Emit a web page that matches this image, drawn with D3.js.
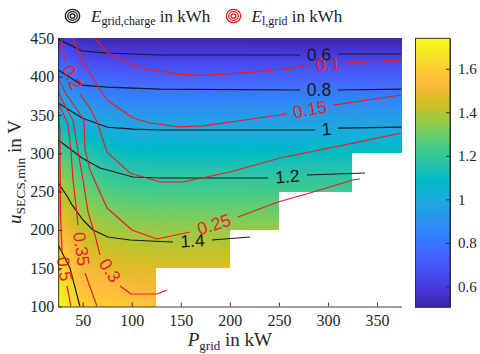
<!DOCTYPE html>
<html><head><meta charset="utf-8">
<script src="https://cdn.jsdelivr.net/npm/d3@7"></script>
<style>body{margin:0;background:#fff}svg{display:block}</style>
</head><body>
<svg id="chart" width="480" height="354"></svg>
<script>
// ---------- data ----------
const pGrid = [25,50,75,100,125,150,175,200,225,250,275,300,325,350,375];   // kW
const uGrid = [100,150,200,250,300,350,400,450];                            // V
// E_grid,charge in kWh, rows follow uGrid, columns follow pGrid (null = no data)
const eCharge = [
 [1.74,1.60,1.59,1.575,1.568,null,null,null,null,null,null,null,null,null,null],
 [1.65,1.511,1.488,1.47,1.468,1.466,1.466,1.466,null,null,null,null,null,null,null],
 [1.55,1.421,1.381,1.367,1.362,1.361,1.361,1.361,1.357,1.357,null,null,null,null,null],
 [1.425,1.306,1.262,1.243,1.241,1.241,1.241,1.241,1.238,1.238,1.232,1.232,1.232,null,null],
 [1.26,1.173,1.117,1.10,1.095,1.095,1.095,1.095,1.097,1.097,1.10,1.10,1.10,1.108,1.108],
 [1.0625,0.977,0.938,0.928,0.925,0.925,0.925,0.925,0.926,0.926,0.927,0.927,0.927,0.93,0.93],
 [0.837,0.75,0.736,0.729,0.724,0.724,0.724,0.724,0.725,0.725,0.726,0.726,0.726,0.727,0.727],
 [0.595,0.53,0.515,0.51,0.508,0.507,0.507,0.507,0.506,0.506,0.505,0.505,0.505,0.504,0.504]
];
const xTicks = [50,100,150,200,250,300,350];
const yTicks = [100,150,200,250,300,350,400,450];
const cTicks = [0.6,0.8,1,1.2,1.4,1.6];

// contour lines of E_grid,charge: [P, u] points, split where a label sits
const chargeLevels = [0.6,0.8,1,1.2,1.4,1.6];
const chargeLines = [
 [[[25,449],[49.3,433.4],[74.8,430.8],[128.8,428.2],[271.5,428.2]],[[310.2,429.5],[375,429.5]]],
 [[[25,408.6],[49.3,389],[74.8,386.4],[128.8,383.8],[271.5,382.5]],[[310.2,382.5],[375,383.8]]],
 [[[25,365.6],[49.3,346],[74.8,334.2],[101.3,331.6],[128.8,330.3],[286.8,330.3]],[[310.2,332.9],[375,334.2]]],
 [[[25,317.3],[49.3,293.8],[67.6,280.7],[101.3,269],[128.8,267.7],[238.9,267.7]],[[278.6,271.6],[337.8,274.2]]],
 [[[25,261.2],[34,244.2],[39.1,232.5],[50.3,212.9],[60.5,199.8],[75.8,190.7],[98.2,186.8],[128.8,184.8],[142,184.2]],[[181.8,186.8],[220.6,190.7]]],
 [[[25,180.3],[37,150.2],[47.2,100]]]
];
// contour lines of E_l,grid
const lossLevels = [0.1,0.15,0.2,0.25,0.3,0.35,0.5];
const lossLines = [
 [[[62.5,450],[74.8,431.7],[101.3,414.8],[118.6,409.5],[149.2,403],[172.6,401.7],[220.5,405.6],[251.1,409.5],[282.7,415.1]],[[317.4,417.7],[375,421.6]]],
 [[[40.1,450],[49.3,421.7],[62.5,393],[74.8,369.5],[101.3,346],[118.6,339.5],[149.2,334.3],[172.6,335.6],[251.1,349.9],[258.3,351.6]],[[305.1,362.9],[375,376]]],
 [[[27.9,450],[31.9,421.3]],[[47.2,377],[57.4,359],[64.6,340.7],[74.8,301.5],[98.2,274.2],[118.6,266.4],[128.8,262.5],[152.2,262.5],[200.2,275.5],[251.1,293.8],[312.3,309.5],[375,326.4]]],
 [[[25,398],[33,377],[43.1,359],[51.3,343.4],[52.3,304.3],[57.4,278.2],[74.8,228.5],[100.2,199.8],[125.7,188.1],[159.4,197.2]],[[208.3,216.8],[249,236.4],[281.6,248.1],[325.4,265.1],[332.5,266.4]]],
 [[[25,380],[33,359],[40,343.4],[45,304.3],[50.3,265.1],[55.4,223.3],[62.5,193.3],[67.6,167.2]],[[88,126.8],[99.2,116.3],[125.7,116.3],[135.9,121.5]]],
 [[[25,365.6],[30.9,349.9],[35,336.9],[38,304.3],[40.1,265.1],[43.1,232.5],[45.2,206.4]],[[52.3,143.7],[64.6,100]]],
 [[[25,353.8],[26.8,330.3],[27.3,223.3],[28.9,171.1]],[[34,126.8],[38,100]]]
];

// parula colormap (style)
const parulaMap = [[0.2422,0.1504,0.6603],[0.2504,0.1650,0.7076],[0.2578,0.1818,0.7511],[0.2647,0.1978,0.7952],[0.2706,0.2147,0.8364],[0.2751,0.2342,0.8710],[0.2783,0.2559,0.8991],[0.2803,0.2782,0.9221],[0.2813,0.3006,0.9414],[0.2810,0.3228,0.9579],[0.2795,0.3447,0.9717],[0.2760,0.3667,0.9829],[0.2699,0.3892,0.9906],[0.2602,0.4123,0.9952],[0.2440,0.4358,0.9988],[0.2206,0.4603,0.9973],[0.1963,0.4847,0.9892],[0.1834,0.5074,0.9798],[0.1786,0.5289,0.9682],[0.1764,0.5499,0.9520],[0.1687,0.5703,0.9359],[0.1540,0.5902,0.9218],[0.1460,0.6091,0.9079],[0.1380,0.6276,0.8973],[0.1248,0.6459,0.8883],[0.1113,0.6635,0.8763],[0.0952,0.6798,0.8598],[0.0689,0.6948,0.8394],[0.0297,0.7082,0.8163],[0.0036,0.7203,0.7917],[0.0067,0.7312,0.7660],[0.0433,0.7411,0.7394],[0.0964,0.7500,0.7120],[0.1408,0.7584,0.6842],[0.1717,0.7670,0.6554],[0.1938,0.7758,0.6251],[0.2161,0.7843,0.5923],[0.2470,0.7918,0.5567],[0.2906,0.7973,0.5188],[0.3406,0.8008,0.4789],[0.3909,0.8029,0.4354],[0.4456,0.8024,0.3909],[0.5044,0.7993,0.3480],[0.5616,0.7942,0.3045],[0.6174,0.7876,0.2612],[0.6720,0.7793,0.2227],[0.7242,0.7698,0.1910],[0.7738,0.7598,0.1646],[0.8203,0.7498,0.1535],[0.8634,0.7406,0.1596],[0.9035,0.7330,0.1774],[0.9393,0.7288,0.2100],[0.9728,0.7298,0.2394],[0.9956,0.7434,0.2371],[0.9970,0.7659,0.2199],[0.9952,0.7893,0.2028],[0.9892,0.8136,0.1885],[0.9786,0.8386,0.1766],[0.9676,0.8639,0.1643],[0.9610,0.8890,0.1537],[0.9597,0.9135,0.1423],[0.9628,0.9373,0.1265],[0.9691,0.9606,0.1064],[0.9769,0.9839,0.0805]];
function parula(t){
  t = Math.max(0, Math.min(1, t));
  const n = parulaMap.length - 1, f = t*n, i = Math.min(Math.floor(f), n-1), r = f - i;
  const a = parulaMap[i], b = parulaMap[i+1];
  return [0,1,2].map(k => Math.round((a[k] + (b[k]-a[k])*r)*255));
}

// ---------- layout ----------
const svg = d3.select("#chart");
svg.append("rect").attr("width",480).attr("height",354).attr("fill","#fff");
const x = d3.scaleLinear().domain([25,375]).range([58.2,401.5]);
const y = d3.scaleLinear().domain([100,450]).range([306.5,38.3]);
const allVals = eCharge.flat().filter(v => v != null);
const cExt = d3.extent(allVals);
const cScale = d3.scaleLinear().domain(cExt).range([307.3,38.3]);
const AX = "#262626";
const serif = "Liberation Serif, Times New Roman, serif";
const sans = "Liberation Sans, Arial, sans-serif";

// ---------- heatmap ----------
function valueAt(P,u){
  if (P < pGrid[0] || P > pGrid[pGrid.length-1] || u < uGrid[0] || u > uGrid[uGrid.length-1]) return null;
  const i = Math.min(d3.bisectRight(pGrid,P)-1, pGrid.length-2);
  const j = Math.min(d3.bisectRight(uGrid,u)-1, uGrid.length-2);
  const v00 = eCharge[j][i], v10 = eCharge[j][i+1], v01 = eCharge[j+1][i], v11 = eCharge[j+1][i+1];
  if (v00==null||v10==null||v01==null||v11==null) return null;
  const tx = (P-pGrid[i])/(pGrid[i+1]-pGrid[i]), ty = (u-uGrid[j])/(uGrid[j+1]-uGrid[j]);
  return v00*(1-tx)*(1-ty) + v10*tx*(1-ty) + v01*(1-tx)*ty + v11*tx*ty;
}
const hx0 = Math.floor(x.range()[0]), hx1 = Math.ceil(x.range()[1]);
const hy0 = Math.floor(y.range()[1]), hy1 = Math.ceil(y.range()[0]);
const cw = hx1-hx0, ch = hy1-hy0;
const canvas = document.createElement("canvas");
canvas.width = cw; canvas.height = ch;
const ctx = canvas.getContext("2d");
const img = ctx.createImageData(cw, ch);
for (let r = 0; r < ch; r++){
  for (let c = 0; c < cw; c++){
    const P = x.invert(hx0 + c + 0.5), u = y.invert(hy0 + r + 0.5);
    const v = valueAt(P,u);
    const k = (r*cw + c)*4;
    if (v == null){ img.data[k+3] = 0; continue; }
    const col = parula((v - cExt[0])/(cExt[1]-cExt[0]));
    img.data[k] = col[0]; img.data[k+1] = col[1]; img.data[k+2] = col[2]; img.data[k+3] = 255;
  }
}
ctx.putImageData(img,0,0);
svg.append("image").attr("x",hx0).attr("y",hy0).attr("width",cw).attr("height",ch)
  .attr("preserveAspectRatio","none").attr("href",canvas.toDataURL());

// ---------- contours ----------
svg.append("clipPath").attr("id","plotclip").append("rect")
  .attr("x",x.range()[0]).attr("y",y.range()[1])
  .attr("width",x.range()[1]-x.range()[0]).attr("height",y.range()[0]-y.range()[1]);
const line = d3.line().x(d => x(d[0])).y(d => y(d[1]));
function drawContours(levels, lines, color, width){
  const g = svg.append("g").attr("clip-path","url(#plotclip)");
  const lg = svg.append("g");
  lines.forEach((segs, li) => {
    segs.forEach(s => g.append("path").attr("d", line(s)).attr("fill","none")
      .attr("stroke", color).attr("stroke-width", width).attr("stroke-linejoin","round"));
    for (let k = 0; k < segs.length-1; k++){
      const a = segs[k][segs[k].length-1], b = segs[k+1][0];
      const ax = x(a[0]), ay = y(a[1]), bx = x(b[0]), by = y(b[1]);
      let ang = Math.atan2(by-ay, bx-ax)*180/Math.PI;
      if (ang > 90) ang -= 180; if (ang < -90) ang += 180;
      lg.append("text").attr("transform", `translate(${(ax+bx)/2},${(ay+by)/2}) rotate(${ang})`)
        .attr("text-anchor","middle").attr("dominant-baseline","central")
        .style("font-family", sans).style("font-size", "17.5px").attr("fill", color)
        .text(String(levels[li]));
    }
  });
}
drawContours(chargeLevels, chargeLines, "#1a1a1a", 1.2);
drawContours(lossLevels, lossLines, "#ec1c24", 1.2);

// ---------- axes ----------
function styleAxis(a, size){
  a.attr("color",AX);
  a.selectAll("text").style("font-family",serif).style("font-size",size+"px").attr("fill",AX);
  a.selectAll("path,line").attr("stroke-width",0.9);
}
const xAxis = svg.append("g").attr("transform",`translate(0,${y.range()[0]})`)
  .call(d3.axisBottom(x).tickValues(xTicks).tickSizeInner(-4).tickSizeOuter(0).tickPadding(8));
const yAxis = svg.append("g").attr("transform",`translate(${x.range()[0]},0)`)
  .call(d3.axisLeft(y).tickValues(yTicks).tickSizeInner(-4).tickSizeOuter(0).tickPadding(4));
styleAxis(xAxis,16); styleAxis(yAxis,16);

// axis titles
const xt = svg.append("text").attr("x",(x.range()[0]+x.range()[1])/2).attr("y",346)
  .attr("text-anchor","middle").style("font-family",serif).style("font-size","19px").attr("fill",AX);
xt.append("tspan").attr("font-style","italic").text("P");
xt.append("tspan").style("font-size","13px").attr("dy",3.5).text("grid");
xt.append("tspan").attr("dy",-3.5).text(" in kW");
const yt = svg.append("text").attr("transform","translate(21,172) rotate(-90)")
  .attr("text-anchor","middle").style("font-family",serif).style("font-size","19px").attr("fill",AX);
yt.append("tspan").attr("font-style","italic").text("u");
yt.append("tspan").style("font-size","13.5px").attr("dy",4).text("SECS,min");
yt.append("tspan").attr("dy",-4).text(" in V");

// ---------- colorbar ----------
const cbX = 415.5, cbW = 34.5;
const grad = svg.append("defs").append("linearGradient").attr("id","cbgrad")
  .attr("x1",0).attr("y1",1).attr("x2",0).attr("y2",0);
parulaMap.forEach((c,i) => grad.append("stop").attr("offset", i/(parulaMap.length-1))
  .attr("stop-color", d3.rgb(c[0]*255,c[1]*255,c[2]*255)));
svg.append("rect").attr("x",cbX).attr("y",cScale.range()[1]).attr("width",cbW)
  .attr("height",cScale.range()[0]-cScale.range()[1]).attr("fill","url(#cbgrad)");
const cAxis = svg.append("g").attr("transform",`translate(${cbX+cbW},0)`)
  .call(d3.axisRight(cScale).tickValues(cTicks).tickFormat(d => String(d)).tickSizeInner(-4).tickSizeOuter(0).tickPadding(8));
styleAxis(cAxis,15);
svg.append("rect").attr("x",cbX).attr("y",cScale.range()[1]).attr("width",cbW)
  .attr("height",cScale.range()[0]-cScale.range()[1]).attr("fill","none").attr("stroke",AX).attr("stroke-width",0.9);

// ---------- legend ----------
const legendItems = [
  {cx:72.5, tx:91, color:"#1a1a1a", sub:"grid,charge"},
  {cx:233.5, tx:251.5, color:"#ec1c24", sub:"l,grid"}
];
legendItems.forEach(it => {
  [[7.2,6.6],[4.8,4.4],[2.4,2.2]].forEach(r => svg.append("ellipse").attr("cx",it.cx).attr("cy",16)
    .attr("rx",r[0]).attr("ry",r[1]).attr("fill","none").attr("stroke",it.color).attr("stroke-width",1.3));
  const t = svg.append("text").attr("x",it.tx).attr("y",22).style("font-family",serif)
    .style("font-size","17px").attr("fill","#1a1a1a");
  t.append("tspan").attr("font-style","italic").text("E");
  t.append("tspan").style("font-size","12px").attr("dy",3).text(it.sub);
  t.append("tspan").attr("dy",-3).text(" in kWh");
});
</script>
</body></html>
